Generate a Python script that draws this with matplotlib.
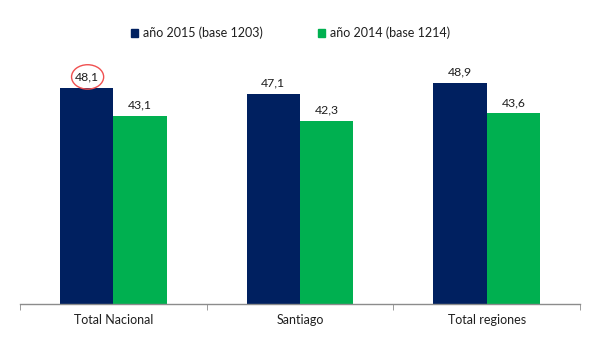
import matplotlib
matplotlib.use("Agg")
import matplotlib.pyplot as plt
from matplotlib.patches import Ellipse, Patch
import numpy as np

categories = ["Total Nacional", "Santiago", "Total regiones"]
series_names = ["año 2015 (base 1203)", "año 2014 (base 1214)"]
values_2015 = [48.1, 47.1, 48.9]
values_2014 = [43.1, 42.3, 43.6]
colors = ["#002060", "#00B050"]

plt.rcParams['font.family'] = ['Lato', 'DejaVu Sans']
text_color = "#1F1F1F"

fig = plt.figure(figsize=(6, 3.5), dpi=100)
ax = fig.add_axes([20/600, 46/350, 560/600, 264/350])

x = np.arange(len(categories))
w = 1 / 3.5
b1 = ax.bar(x - w/2, values_2015, w, color=colors[0], label=series_names[0])
b2 = ax.bar(x + w/2, values_2014, w, color=colors[1], label=series_names[1])

for bars, vals in ((b1, values_2015), (b2, values_2014)):
    for r, v in zip(bars, vals):
        ax.annotate(f"{v:.1f}".replace(".", ","),
                    (r.get_x() + r.get_width()/2, r.get_height()),
                    xytext=(0, 4), textcoords="offset points",
                    ha="center", va="bottom", fontsize=8.8, color=text_color)

# red circle highlighting first value
r0 = b1[0]
ell = Ellipse((r0.get_x() + r0.get_width()/2 + 0.005, values_2015[0] + 1.95),
              width=0.172, height=4.3, fill=False, edgecolor="#F05050", lw=1.0)
ax.add_patch(ell)

ax.set_xlim(-0.5, 2.5)
ax.set_ylim(10, 10 + 264/5.67)
ax.set_yticks([])
for s in ["top", "right", "left"]:
    ax.spines[s].set_visible(False)
ax.spines["bottom"].set_color("#8C8C8C")
ax.spines["bottom"].set_linewidth(1.0)

ax.set_xticks(x)
ax.set_xticklabels(categories, fontsize=9, color=text_color)
ax.tick_params(axis="x", which="major", length=0, pad=7)
ax.set_xticks(np.arange(-0.5, 3, 1), minor=True)
ax.tick_params(axis="x", which="minor", length=4, color="#8C8C8C", direction="out")

handles = [Patch(color=c) for c in colors]
leg = fig.legend(handles, series_names, loc="center", bbox_to_anchor=(290.5/600, 1 - 33/350),
                 ncol=2, frameon=False, fontsize=9, handlelength=0.56, handleheight=0.56,
                 handletextpad=0.4, columnspacing=4.4, labelcolor=text_color,
                 borderpad=0, borderaxespad=0)

fig.savefig("out.png", dpi=100, facecolor="white")
